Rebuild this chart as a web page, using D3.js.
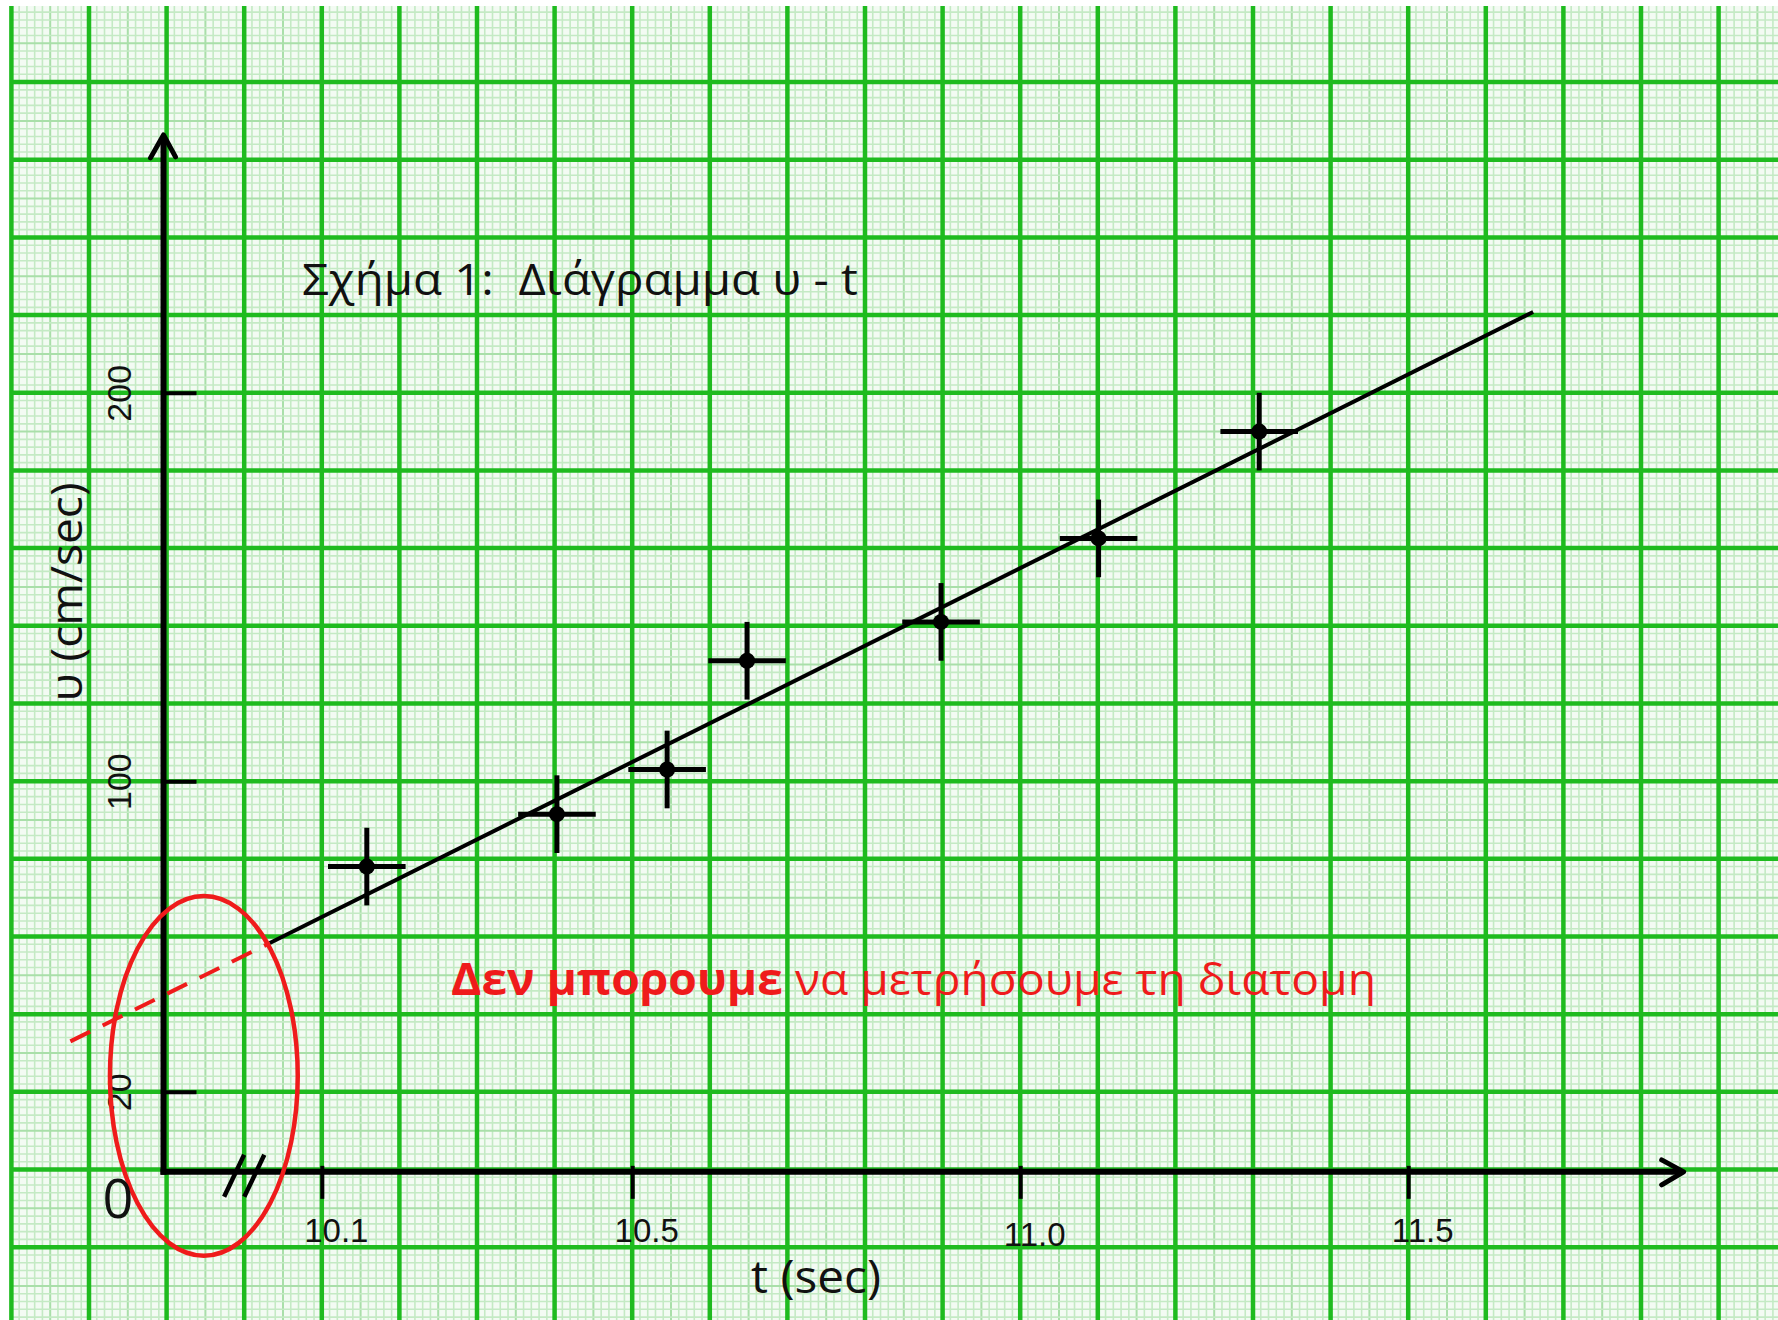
<!DOCTYPE html>
<html>
<head>
<meta charset="utf-8">
<script src="https://cdn.jsdelivr.net/npm/d3@7"></script>
<style>
body { margin: 0; background: #fff; }
svg { display: block; }
</style>
</head>
<body>
<div id="chart"></div>
<script>
let WIDTH = 1778
let HEIGHT = 1320

// measured points: time (sec) and speed (cm/sec)
let times = [10.158, 10.403, 10.545, 10.648, 10.898, 11.101, 11.308]
let speeds = [78, 91.5, 103, 131, 141, 162.5, 190]
let timeErr = 0.05
let speedErr = 10

// straight-line fit and its dashed extension back to the axis
let fitT = [10.033, 11.661]
let fitU = [58.3, 220.8]
let extT = [9.776, 10.033]
let extU = [33, 58.3]

let xTicks = [10.1, 10.5, 11.0, 11.5]
let xTickLabels = ['10.1', '10.5', '11.0', '11.5']
let yTicks = [20, 100, 200]
let yTickLabels = ['20', '100', '200']

// where the axes sit (in data units)
let originT = 9.896
let originU = -0.6
let axisEndT = 11.855
let axisEndU = 266.4
let breakT = [9.987, 10.013]

// red ellipse marking the unknown region
let ringT = 9.948, ringU = 24.1, ringRT = 0.121, ringRU = 46.3

let GREEN = '#1fbb1f'
let RED = '#ef1b1b'

let x = d3.scaleLinear().domain([9.7, 11.9]).range([11.4, 1718.6])
let y = d3.scaleLinear().domain([0, 300]).range([1169.5, 4.4])

let svg = d3.select('#chart')
    .append('svg')
    .attr('width', WIDTH)
    .attr('height', HEIGHT)
    .style('font-family', '"Open Sans", "Noto Sans", sans-serif')

// graph paper
let paper = svg.append('g')
paper.append('rect')
    .attr('x', 11).attr('y', 6)
    .attr('width', WIDTH - 11).attr('height', HEIGHT - 6)
    .attr('fill', '#f3fbf3')

let tMin = x.invert(11), tMax = x.invert(WIDTH)
let uMin = y.invert(HEIGHT), uMax = y.invert(6)
let vMinor = d3.range(Math.ceil(tMin * 100), Math.floor(tMax * 100) + 1)
let hMinor = d3.range(Math.ceil(uMin / 2), Math.floor(uMax / 2) + 1)

paper.selectAll('.vminor').data(vMinor).join('line')
    .attr('x1', d => x(d / 100)).attr('x2', d => x(d / 100))
    .attr('y1', 6).attr('y2', HEIGHT)
    .attr('stroke', d => d % 10 === 0 ? 'none' : (d % 5 === 0 ? '#a9dfa9' : '#c4eac4'))
    .attr('stroke-width', d => d % 5 === 0 ? 2 : 1.6)
paper.selectAll('.hminor').data(hMinor).join('line')
    .attr('y1', d => y(d * 2)).attr('y2', d => y(d * 2))
    .attr('x1', 11).attr('x2', WIDTH)
    .attr('stroke', d => d % 10 === 0 ? 'none' : (d % 5 === 0 ? '#a9dfa9' : '#c4eac4'))
    .attr('stroke-width', d => d % 5 === 0 ? 2 : 1.6)

let vMajor = vMinor.filter(d => d % 10 === 0)
let hMajor = hMinor.filter(d => d % 10 === 0)
paper.selectAll('.vmajor').data(vMajor).join('line')
    .attr('x1', d => x(d / 100)).attr('x2', d => x(d / 100))
    .attr('y1', 6).attr('y2', HEIGHT)
    .attr('stroke', GREEN).attr('stroke-width', 4.5)
paper.selectAll('.hmajor').data(hMajor).join('line')
    .attr('y1', d => y(d * 2)).attr('y2', d => y(d * 2))
    .attr('x1', 11).attr('x2', WIDTH)
    .attr('stroke', GREEN).attr('stroke-width', 4.5)

// axes
let ox = x(originT), oy = y(originU)
let ax = svg.append('g').attr('stroke', '#000').attr('fill', 'none').attr('stroke-linecap', 'butt')
ax.append('line')
    .attr('x1', ox).attr('y1', oy + 3).attr('x2', ox).attr('y2', y(axisEndU) + 2)
    .attr('stroke-width', 6)
ax.append('line')
    .attr('x1', ox - 3).attr('y1', oy).attr('x2', x(axisEndT) - 2).attr('y2', oy)
    .attr('stroke-width', 6)
ax.append('path')
    .attr('d', `M${ox - 13},${y(axisEndU) + 23} L${ox},${y(axisEndU)} L${ox + 12},${y(axisEndU) + 22}`)
    .attr('stroke-width', 5).attr('stroke-linejoin', 'round').attr('stroke-linecap', 'round')
ax.append('path')
    .attr('d', `M${x(axisEndT) - 22},${oy - 12} L${x(axisEndT)},${oy} L${x(axisEndT) - 22},${oy + 13}`)
    .attr('stroke-width', 5).attr('stroke-linejoin', 'round').attr('stroke-linecap', 'round')

// axis break marks
ax.selectAll('.brk').data(breakT).join('line')
    .attr('x1', d => x(d) - 10).attr('y1', oy + 25)
    .attr('x2', d => x(d) + 10).attr('y2', oy - 17)
    .attr('stroke-width', 4.5)

// x ticks
let xAxis = d3.axisBottom(x).tickValues(xTicks).tickSize(0).tickFormat((d, i) => xTickLabels[i])
let gx = svg.append('g').attr('transform', `translate(0,${oy})`).call(xAxis)
gx.select('.domain').remove()
gx.selectAll('.tick line').attr('y1', -6).attr('y2', 27).attr('stroke', '#000').attr('stroke-width', 4)
gx.selectAll('.tick text')
    .attr('fill', '#111').attr('font-size', 33).attr('dy', null)
    .attr('x', 14).attr('y', (d, i) => i === 2 ? 74 : 70)

// y ticks
let yAxis = d3.axisRight(y).tickValues(yTicks).tickSize(0).tickFormat((d, i) => yTickLabels[i])
let gy = svg.append('g').attr('transform', `translate(${ox},0)`).call(yAxis)
gy.select('.domain').remove()
gy.selectAll('.tick line').attr('x1', 0).attr('x2', 33).attr('stroke', '#000').attr('stroke-width', 4)
gy.selectAll('.tick text')
    .attr('fill', '#111').attr('font-size', 34).attr('dy', null).attr('x', null)
    .attr('text-anchor', 'middle')
    .attr('transform', 'translate(-32,0) rotate(-90)')

// dashed red extension
svg.append('line')
    .attr('x1', x(extT[0])).attr('y1', y(extU[0]))
    .attr('x2', x(extT[1])).attr('y2', y(extU[1]))
    .attr('stroke', RED).attr('stroke-width', 4).attr('stroke-dasharray', '22 14')

// fit line
svg.append('line')
    .attr('x1', x(fitT[0])).attr('y1', y(fitU[0]))
    .attr('x2', x(fitT[1])).attr('y2', y(fitU[1]))
    .attr('stroke', '#000').attr('stroke-width', 4)

// error crosses and points
let pts = times.map((t, i) => ({ t: t, u: speeds[i] }))
let g = svg.append('g').attr('stroke', '#000').attr('stroke-width', 5)
g.selectAll('.eh').data(pts).join('line')
    .attr('x1', d => x(d.t - timeErr)).attr('x2', d => x(d.t + timeErr))
    .attr('y1', d => y(d.u)).attr('y2', d => y(d.u))
g.selectAll('.ev').data(pts).join('line')
    .attr('x1', d => x(d.t)).attr('x2', d => x(d.t))
    .attr('y1', d => y(d.u - speedErr)).attr('y2', d => y(d.u + speedErr))
svg.selectAll('.dot').data(pts).join('circle')
    .attr('cx', d => x(d.t)).attr('cy', d => y(d.u)).attr('r', 8)
    .attr('fill', '#000')

// red ring
svg.append('ellipse')
    .attr('cx', x(ringT)).attr('cy', y(ringU))
    .attr('rx', x(ringT + ringRT) - x(ringT)).attr('ry', y(ringU - ringRU) - y(ringU))
    .attr('fill', 'none').attr('stroke', RED).attr('stroke-width', 4.5)

// texts
svg.append('text')
    .attr('x', 302).attr('y', 295)
    .attr('font-size', 44).attr('fill', '#111')
    .attr('textLength', 556).attr('lengthAdjust', 'spacingAndGlyphs')
    .attr('xml:space', 'preserve')
    .text('Σχήμα 1:  Διάγραμμα υ - t')

let note = svg.append('text')
    .attr('x', 451).attr('y', 995)
    .attr('font-size', 44).attr('fill', RED)
    .attr('textLength', 925).attr('lengthAdjust', 'spacingAndGlyphs')
note.append('tspan').attr('font-weight', 'bold').text('Δεν μπορουμε')
note.append('tspan').text(' να μετρήσουμε τη διατομη')

svg.append('text')
    .attr('transform', 'translate(82,592) rotate(-90)')
    .attr('text-anchor', 'middle')
    .attr('font-size', 44).attr('fill', '#111')
    .attr('textLength', 219).attr('lengthAdjust', 'spacingAndGlyphs')
    .text('υ (cm/sec)')

svg.append('text')
    .attr('x', 816).attr('y', 1293)
    .attr('text-anchor', 'middle')
    .attr('font-size', 45).attr('fill', '#111')
    .attr('textLength', 130).attr('lengthAdjust', 'spacingAndGlyphs')
    .text('t (sec)')

svg.append('text')
    .attr('x', 118).attr('y', 1218)
    .attr('text-anchor', 'middle')
    .attr('font-size', 54).attr('fill', '#111')
    .text('0')
</script>
</body>
</html>
